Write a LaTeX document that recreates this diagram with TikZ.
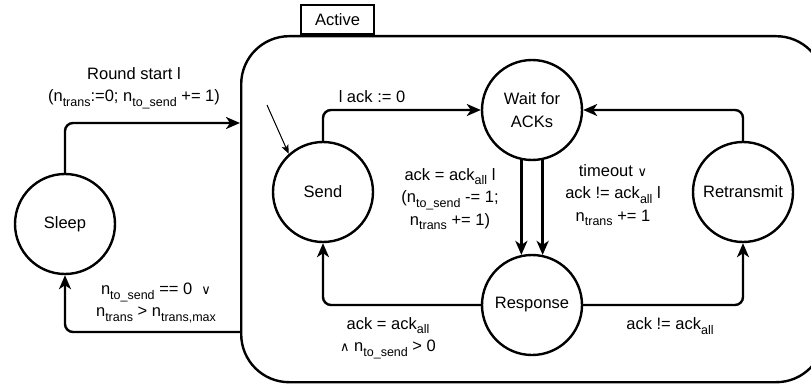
\documentclass[tikz,border=0pt]{standalone}
\usepackage{fontspec}
\setmainfont{Liberation Sans}
\newfontfamily\symfont{DejaVu Sans}
\usetikzlibrary{arrows.meta}
\newcommand{\lsb}[1]{\raisebox{-0.28em}{\fontsize{12.5}{12.5}\selectfont #1}}
\newcommand{\myor}{{\symfont\fontsize{13}{13}\selectfont ∨}}
\newcommand{\myand}{{\symfont\fontsize{13}{13}\selectfont ∧}}
\begin{document}
\begin{tikzpicture}[x=1pt,y=-1pt,
  every node/.style={font=\fontsize{16.5}{22.5}\selectfont},
  state/.style={circle, draw, line width=2.4pt, minimum size=100pt, inner sep=0pt},
  lbl/.style={align=center, inner sep=0pt},
  conn/.style={line width=2.4pt, -{Stealth[length=14pt,width=12pt,inset=4pt]}, rounded corners=8pt},
  initarrow/.style={line width=1pt, -{Stealth[length=9pt,width=7pt,inset=2pt]}}]
\clip (0,0) rectangle (811,385);
\useasboundingbox (0,0) rectangle (811,385);
% Active superstate
\node[draw, line width=2.4pt, rounded corners=48pt, minimum width=583pt, minimum height=346pt, anchor=north west, inner sep=0pt] (active) at (240,35) {};
\node[draw, line width=2pt, minimum width=73pt, minimum height=29pt, anchor=south west, inner sep=0pt] (tab) at (300,35) {Active};
% states
\node[state] (sleep) at (65,224) {Sleep};
\node[state] (send) at (323,192) {Send};
\node[state, align=center] (wait) at (532,110) {Wait for\\ACKs};
\node[state] (retx) at (743,192) {Retransmit};
\node[state] (resp) at (532,305) {Response};
% coordinates on the Active border
\coordinate (inA) at (240,123);
\coordinate (outA) at (240,332);
\coordinate (init) at (267,105);
% connectors
\draw[conn] (sleep.north) |- (inA);
\draw[conn] (outA) -| (sleep.south);
\draw[initarrow] (init) -- (send.132.6);
\draw[conn] (send.north) |- (wait.west);
\draw[conn] (retx.north) |- (wait.east);
\draw[conn, rounded corners=0pt] (wait.-102) -- (resp.102);
\draw[conn, rounded corners=0pt] (wait.-78) -- (resp.78);
\draw[conn] (resp.west) -| (send.south);
\draw[conn] (resp.east) -| (retx.south);
% labels
\node[lbl] (l1) at (134,88) {Round start l\\(n\lsb{trans}:=0; n\lsb{to\_send} += 1)};
\node[lbl] (l2) at (156,303) {n\lsb{to\_send} == 0 \ \myor\\n\lsb{trans} > n\lsb{trans,max}};
\node[lbl] (l3) at (372,97) {l ack := 0};
\node[lbl] (l4) at (450,199) {ack = ack\lsb{all} l\\(n\lsb{to\_send} -= 1;\\n\lsb{trans} += 1)};
\node[lbl] (l5) at (613,195) {timeout \myor\\ack != ack\lsb{all} l\\n\lsb{trans} += 1};
\node[lbl] (l6) at (388,338) {ack = ack\lsb{all}\\\myand\ n\lsb{to\_send} > 0};
\node[lbl] (l7) at (670,326) {ack != ack\lsb{all}};
\end{tikzpicture}
\end{document}
